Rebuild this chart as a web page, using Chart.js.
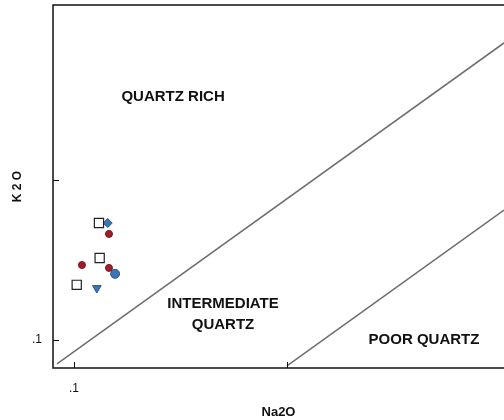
<!DOCTYPE html>
<html>
<head>
<meta charset="utf-8">
<script src="https://cdn.jsdelivr.net/npm/chart.js@4/dist/chart.umd.min.js"></script>
<style>
  body { margin: 0; background: #fff; }
</style>
</head>
<body>
<canvas id="grafico" width="504" height="420"></canvas>
<script>
const quadradoNa2O = [0.131, 0.132, 0.103];
const quadradoK2O = [0.538, 0.325, 0.221];
const vermelhoNa2O = [0.146, 0.109, 0.146];
const vermelhoK2O = [0.460, 0.294, 0.282];
const losangoNa2O = [0.144];
const losangoK2O = [0.538];
const circuloAzulNa2O = [0.156];
const circuloAzulK2O = [0.259];
const trianguloNa2O = [0.128];
const trianguloK2O = [0.211];

const linha1Na2O = [0.0832, 10.45];
const linha1K2O = [0.0708, 7.18];
const linha2Na2O = [1.0, 10.45];
const linha2K2O = [0.0688, 0.649];

const ticksX = [0.1, 1];
const ticksY = [0.1, 1];
const rotulosTicks = { 0.1: '.1', 1: '' };

const regioes = [
  { texto: 'QUARTZ RICH', x: 0.292, y: 3.30 },
  { texto: 'INTERMEDIATE', x: 0.501, y: 0.168 },
  { texto: 'QUARTZ', x: 0.501, y: 0.124 },
  { texto: 'POOR QUARTZ', x: 4.40, y: 0.100 }
];

const pontos = (xs, ys) => xs.map((x, i) => ({ x: x, y: ys[i] }));

const molduraPlugin = {
  id: 'moldura',
  afterDraw(chart) {
    const ctx = chart.ctx;
    const a = chart.chartArea;
    const sx = chart.scales.x;
    const sy = chart.scales.y;
    ctx.save();
    ctx.strokeStyle = '#111';
    ctx.lineWidth = 1.5;
    ctx.beginPath();
    ctx.moveTo(chart.width, a.top);
    ctx.lineTo(a.left, a.top);
    ctx.lineTo(a.left, a.bottom);
    ctx.lineTo(chart.width, a.bottom);
    ctx.stroke();

    ctx.lineWidth = 1;
    ctx.beginPath();
    ticksX.forEach(v => {
      const px = Math.round(sx.getPixelForValue(v)) + 0.5;
      ctx.moveTo(px, a.bottom);
      ctx.lineTo(px, a.bottom - 6);
    });
    ticksY.forEach(v => {
      const py = Math.round(sy.getPixelForValue(v)) + 0.5;
      ctx.moveTo(a.left, py);
      ctx.lineTo(a.left + 6, py);
    });
    ctx.stroke();

    ctx.fillStyle = '#111';
    ctx.font = 'bold 15px "Liberation Sans", Arial, sans-serif';
    ctx.textAlign = 'center';
    ctx.textBaseline = 'middle';
    regioes.forEach(r => {
      ctx.fillText(r.texto, sx.getPixelForValue(r.x), sy.getPixelForValue(r.y));
    });
    ctx.restore();
  }
};

const ctx = document.getElementById('grafico').getContext('2d');

new Chart(ctx, {
  type: 'scatter',
  data: {
    datasets: [
      {
        type: 'line',
        data: pontos(linha1Na2O, linha1K2O),
        borderColor: '#6e6e6e',
        borderWidth: 1.5,
        pointRadius: 0,
        fill: false
      },
      {
        type: 'line',
        data: pontos(linha2Na2O, linha2K2O),
        borderColor: '#6e6e6e',
        borderWidth: 1.5,
        pointRadius: 0,
        fill: false
      },
      {
        data: pontos(quadradoNa2O, quadradoK2O),
        pointStyle: 'rect',
        pointRadius: 6.5,
        backgroundColor: '#ffffff',
        borderColor: '#222',
        borderWidth: 1.2
      },
      {
        data: pontos(vermelhoNa2O, vermelhoK2O),
        pointStyle: 'circle',
        pointRadius: 3.5,
        backgroundColor: '#a01e2a',
        borderColor: '#7a1520',
        borderWidth: 1
      },
      {
        data: pontos(losangoNa2O, losangoK2O),
        pointStyle: 'rectRot',
        pointRadius: 4.5,
        backgroundColor: '#3d74b4',
        borderColor: '#2c5688',
        borderWidth: 1
      },
      {
        data: pontos(circuloAzulNa2O, circuloAzulK2O),
        pointStyle: 'circle',
        pointRadius: 4.5,
        backgroundColor: '#3d74b4',
        borderColor: '#2c5688',
        borderWidth: 1
      },
      {
        data: pontos(trianguloNa2O, trianguloK2O),
        pointStyle: 'triangle',
        rotation: 180,
        pointRadius: 5,
        backgroundColor: '#3d74b4',
        borderColor: '#2c5688',
        borderWidth: 1
      }
    ]
  },
  options: {
    responsive: false,
    animation: false,
    layout: { autoPadding: false, padding: { top: 5, right: 0, left: 0, bottom: 0 } },
    plugins: {
      legend: { display: false },
      tooltip: { enabled: false }
    },
    scales: {
      x: {
        type: 'logarithmic',
        min: 0.0797,
        max: 10.45,
        grid: { display: false, drawTicks: false },
        border: { display: false },
        afterBuildTicks: s => { s.ticks = ticksX.map(v => ({ value: v })); },
        afterFit: s => { s.height = 52; s.paddingLeft = 0; s.paddingRight = 0; },
        ticks: {
          autoSkip: false,
          maxRotation: 0,
          padding: 13,
          color: '#111',
          font: { family: '"Liberation Sans", Arial, sans-serif', size: 12 },
          callback: v => rotulosTicks[v] !== undefined ? rotulosTicks[v] : ''
        },
        title: {
          display: true,
          text: 'Na2O',
          color: '#111',
          padding: { top: 8, bottom: 0 },
          font: { family: '"Liberation Sans", Arial, sans-serif', size: 13, weight: 'bold' }
        }
      },
      y: {
        type: 'logarithmic',
        min: 0.0668,
        max: 12.4,
        grid: { display: false, drawTicks: false },
        border: { display: false },
        afterBuildTicks: s => { s.ticks = ticksY.map(v => ({ value: v })); },
        afterFit: s => { s.width = 53; s.paddingTop = 0; s.paddingBottom = 0; },
        ticks: {
          autoSkip: false,
          padding: 11,
          color: '#111',
          font: { family: '"Liberation Sans", Arial, sans-serif', size: 12 },
          callback: v => rotulosTicks[v] !== undefined ? rotulosTicks[v] : ''
        },
        title: {
          display: true,
          text: 'K 2 O',
          color: '#111',
          padding: { top: 10, bottom: 0 },
          font: { family: '"Liberation Sans", Arial, sans-serif', size: 12, weight: 'bold' }
        }
      }
    }
  },
  plugins: [molduraPlugin]
});
</script>
</body>
</html>
